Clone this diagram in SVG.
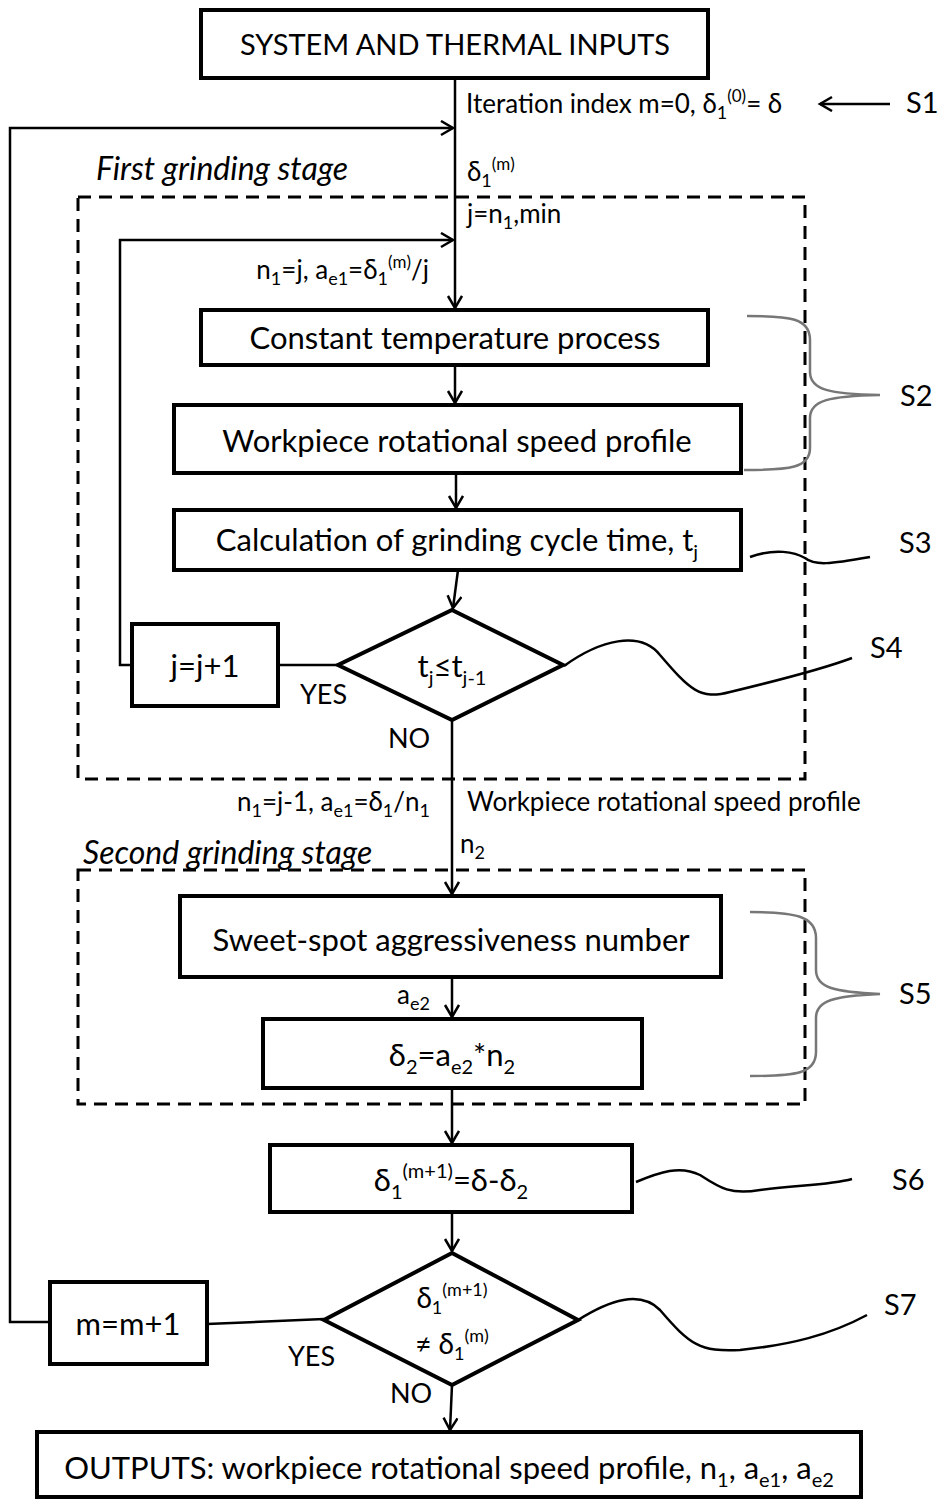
<svg xmlns="http://www.w3.org/2000/svg" width="939" height="1501" viewBox="0 0 939 1501">
<defs>
<style>
text{font-family:Lato,"Open Sans","Liberation Sans",sans-serif;fill:#000}
.box{fill:#fff;stroke:#000;stroke-width:4}
.dash{fill:none;stroke:#000;stroke-width:3;stroke-dasharray:13 8}
.ln{fill:none;stroke:#000;stroke-width:2.5}
.wave{fill:none;stroke:#000;stroke-width:2.5}
.brace{fill:none;stroke:#777;stroke-width:2.5}
.big{font-size:31px}
.dia{font-size:28px}
.ttl{font-size:29px}
.lbl{font-size:26px}
.yn{font-size:27px}
.it{font-size:32px;font-style:italic}
.s{font-size:29px}
</style>
<marker id="ah" markerUnits="userSpaceOnUse" markerWidth="20" markerHeight="20" refX="14" refY="8" orient="auto">
<path d="M2,1 L14,8 L2,15" fill="none" stroke="#000" stroke-width="2.5"/>
</marker>
</defs>

<g id="connectors">
<line class="ln" x1="455" y1="78" x2="455" y2="308" marker-end="url(#ah)"/>
<polyline class="ln" points="50,1322 10,1322 10,128 453,128" marker-end="url(#ah)"/>
<polyline class="ln" points="132,665 120,665 120,240 453,240" marker-end="url(#ah)"/>
<line class="ln" x1="455" y1="365" x2="455" y2="403" marker-end="url(#ah)"/>
<line class="ln" x1="456" y1="473" x2="456" y2="508" marker-end="url(#ah)"/>
<line class="ln" x1="458" y1="570" x2="453" y2="608" marker-end="url(#ah)"/>
<line class="ln" x1="278" y1="665" x2="338" y2="665"/>
<line class="ln" x1="452" y1="720" x2="452" y2="894" marker-end="url(#ah)"/>
<line class="ln" x1="452" y1="977" x2="452" y2="1017" marker-end="url(#ah)"/>
<line class="ln" x1="452" y1="1088" x2="452" y2="1143" marker-end="url(#ah)"/>
<line class="ln" x1="452" y1="1212" x2="452" y2="1251" marker-end="url(#ah)"/>
<line class="ln" x1="207" y1="1324" x2="324" y2="1319"/>
<line class="ln" x1="452" y1="1385" x2="450" y2="1430" marker-end="url(#ah)"/>
<line class="ln" x1="890" y1="104" x2="820" y2="104" marker-end="url(#ah)"/>
</g>

<g id="stage1">
<rect class="dash" x="78" y="197" width="727" height="582"/>
<text class="it" x="96" y="180">First grinding stage</text>
</g>
<g id="stage2">
<rect class="dash" x="78" y="870" width="727" height="234"/>
<text class="it" x="83" y="864">Second grinding stage</text>
</g>

<g id="inputs">
<rect class="box" x="201" y="10" width="507" height="68"/>
<text class="ttl" x="455" y="55" text-anchor="middle">SYSTEM AND THERMAL INPUTS</text>
</g>

<g id="labels">
<text class="lbl" x="466" y="113">Iteration index m=0, δ<tspan font-size="18" dy="6">1</tspan><tspan font-size="17" dy="-17">(0)</tspan><tspan dy="11">= δ</tspan></text>
<text class="lbl" x="467" y="181">δ<tspan font-size="18" dy="6">1</tspan><tspan font-size="17" dy="-17">(m)</tspan></text>
<text class="lbl" x="467" y="223">j=n<tspan font-size="18" dy="6">1</tspan><tspan dy="-6">,min</tspan></text>
<text class="lbl" x="429" y="279" text-anchor="end">n<tspan font-size="18" dy="6">1</tspan><tspan dy="-6">=j, a</tspan><tspan font-size="18" dy="6">e1</tspan><tspan dy="-6">=δ</tspan><tspan font-size="18" dy="6">1</tspan><tspan font-size="17" dy="-17">(m)</tspan><tspan dy="11">/j</tspan></text>
<text class="lbl" x="430" y="811" text-anchor="end">n<tspan font-size="18" dy="6">1</tspan><tspan dy="-6">=j-1, a</tspan><tspan font-size="18" dy="6">e1</tspan><tspan dy="-6">=δ</tspan><tspan font-size="18" dy="6">1</tspan><tspan dy="-6">/n</tspan><tspan font-size="18" dy="6">1</tspan></text>
<text class="lbl" x="467" y="811">Workpiece rotational speed profile</text>
<text class="lbl" x="460" y="853">n<tspan font-size="18" dy="6">2</tspan></text>
<text class="lbl" x="397" y="1004">a<tspan font-size="18" dy="6">e2</tspan></text>
<text class="yn" x="300" y="704">YES</text>
<text class="yn" x="388" y="748">NO</text>
<text class="yn" x="288" y="1366">YES</text>
<text class="yn" x="390" y="1403">NO</text>
</g>

<g id="s2-constant">
<rect class="box" x="201" y="310" width="507" height="55"/>
<text class="big" x="455" y="349" text-anchor="middle">Constant temperature process</text>
</g>
<g id="s2-profile">
<rect class="box" x="174" y="405" width="567" height="68"/>
<text class="big" x="457" y="452" text-anchor="middle">Workpiece rotational speed profile</text>
</g>
<g id="s3-cycle">
<rect class="box" x="174" y="510" width="567" height="60"/>
<text class="big" x="457" y="551" text-anchor="middle">Calculation of grinding cycle time, t<tspan font-size="20" dy="8">j</tspan></text>
</g>
<g id="s4-decision">
<polygon class="box" points="452,610 563,665 452,720 338,665"/>
<text class="big" x="452" y="677" text-anchor="middle">t<tspan font-size="20" dy="8">j</tspan><tspan dy="-8">≤t</tspan><tspan font-size="20" dy="8">j-1</tspan></text>
</g>
<g id="inc-j">
<rect class="box" x="132" y="624" width="146" height="82"/>
<text class="big" x="205" y="677" text-anchor="middle">j=j+1</text>
</g>
<g id="s5-sweet">
<rect class="box" x="180" y="896" width="541" height="81"/>
<text class="big" x="451" y="951" text-anchor="middle">Sweet-spot aggressiveness number</text>
</g>
<g id="s5-delta2">
<rect class="box" x="263" y="1019" width="379" height="69"/>
<text class="big" x="452" y="1066" text-anchor="middle">δ<tspan font-size="20" dy="8">2</tspan><tspan dy="-8">=a</tspan><tspan font-size="20" dy="8">e2</tspan><tspan dy="-8">*n</tspan><tspan font-size="20" dy="8">2</tspan></text>
</g>
<g id="s6-update">
<rect class="box" x="270" y="1145" width="362" height="67"/>
<text class="big" x="451" y="1191" text-anchor="middle">δ<tspan font-size="20" dy="8">1</tspan><tspan font-size="20" dy="-21">(m+1)</tspan><tspan dy="13">=δ-δ</tspan><tspan font-size="20" dy="8">2</tspan></text>
</g>
<g id="s7-decision">
<polygon class="box" points="452,1253 578,1320 452,1385 324,1320"/>
<text class="dia" x="452" y="1308" text-anchor="middle">δ<tspan font-size="18" dy="6">1</tspan><tspan font-size="18" dy="-18">(m+1)</tspan></text>
<text class="dia" x="452" y="1354" text-anchor="middle">≠ δ<tspan font-size="18" dy="6">1</tspan><tspan font-size="18" dy="-18">(m)</tspan></text>
</g>
<g id="inc-m">
<rect class="box" x="50" y="1282" width="157" height="82"/>
<text class="big" x="128" y="1335" text-anchor="middle">m=m+1</text>
</g>
<g id="outputs">
<rect class="box" x="37" y="1432" width="824" height="65"/>
<text class="big" x="449" y="1479" text-anchor="middle">OUTPUTS: workpiece rotational speed profile, n<tspan font-size="20" dy="8">1</tspan><tspan dy="-8">, a</tspan><tspan font-size="20" dy="8">e1</tspan><tspan dy="-8">, a</tspan><tspan font-size="20" dy="8">e2</tspan></text>
</g>

<g id="step-labels">
<path class="brace" d="M747,316 C790,316 810,318 810,340 L810,372 C810,390 830,394 880,395 C830,396 810,400 810,418 L810,448 C810,468 790,470 744,470"/>
<text class="s" x="900" y="406">S2</text>
<path class="wave" d="M750,557 C775,548 795,552 805,558 C815,566 830,564 870,557"/>
<text class="s" x="899" y="553">S3</text>
<path class="wave" d="M564,666 C600,640 640,630 660,655 C690,690 700,700 730,692 C780,680 820,670 852,658"/>
<text class="s" x="870" y="658">S4</text>
<path class="brace" d="M750,912 C795,912 816,916 816,938 L816,970 C816,988 835,992 880,994 C835,996 816,1000 816,1018 L816,1052 C816,1074 795,1076 750,1076"/>
<text class="s" x="899" y="1004">S5</text>
<path class="wave" d="M636,1182 C660,1172 680,1165 700,1175 C720,1188 730,1195 760,1190 C800,1185 830,1185 852,1179"/>
<text class="s" x="892" y="1190">S6</text>
<path class="wave" d="M578,1320 C610,1300 640,1290 660,1310 C690,1345 700,1352 740,1350 C790,1345 830,1335 867,1315"/>
<text class="s" x="884" y="1315">S7</text>
<text class="s" x="906" y="113">S1</text>
</g>
</svg>
